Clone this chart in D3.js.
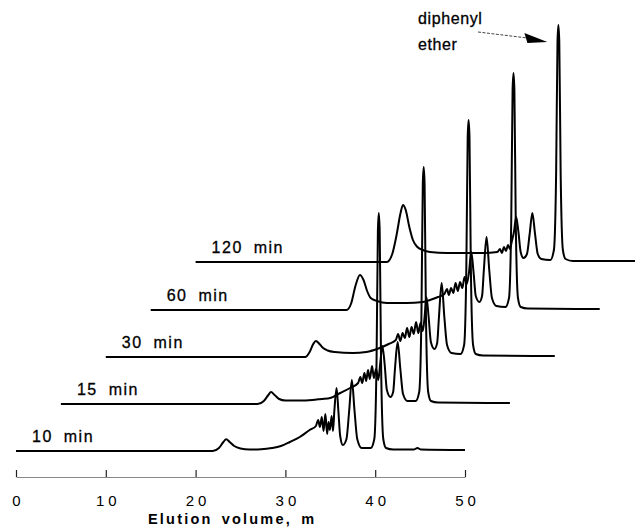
<!DOCTYPE html>
<html lang="en">
<head>
    <meta charset="UTF-8">
    <title>d3js - Chromatograms</title>
    <script src="https://d3js.org/d3.v7.min.js"></script>
    <style>
        body { margin: 0; background: #fff; }
        text { font-family: "Liberation Sans", Arial, sans-serif; fill: #000; }
    </style>
</head>
<body>
    <script>
        var width = 635;
        var height = 527;

        // reaction times and how far each trace is shifted (ml, response units)
        var timeLabels = ["10 min", "15 min", "30 min", "60 min", "120 min"];
        var xOffsets = [0, 5, 10, 15, 20];
        var yOffsets = [0, 47, 94, 141, 189];
        var tickValues = [0, 10, 20, 30, 40, 50];

        // [elution volume (ml), detector response]
        var trace10 = [[0,0],[21.9,0],[22.6,3],[23.1,9],[23.4,11.7],[23.8,9],[24.3,5],[25,2.5],[26,1.5],[27.3,1.8],[28.5,3],[29.5,5],[30.5,9],[31.6,14],[32.7,21],[33.4,25],[33.65,31],[33.85,24],[34.05,34],[34.25,20],[34.45,37],[34.65,17],[34.8,29],[34.95,21],[35.15,35],[35.3,20],[35.45,40],[35.7,63],[35.9,40],[36.1,15],[36.4,6],[36.8,12],[37.1,40],[37.4,71],[37.7,40],[38.0,12],[38.5,3],[39.5,3],[39.9,12],[40.15,90],[40.3,220],[40.4,238],[40.5,220],[40.65,90],[40.9,12],[41.2,3],[42,1.5],[44.3,1.5],[44.7,3],[45.1,1.5],[50,1]];
        var trace15 = [[0,0],[21.9,0],[22.6,3],[23.1,9],[23.4,12],[23.8,9],[24.3,5],[25,3.5],[26.5,3.5],[28,4],[29,5],[30,6],[31.1,11],[32.2,16],[33.1,21],[33.35,27],[33.55,21],[33.8,31],[34.0,23],[34.2,34],[34.4,25],[34.65,38],[34.85,26],[35.1,35],[35.35,24],[35.55,40],[35.8,58],[36.05,40],[36.3,14],[36.7,7],[37.0,12],[37.2,35],[37.5,62],[37.8,35],[38.1,10],[38.6,3],[39.5,3],[39.9,12],[40.15,90],[40.3,220],[40.4,237],[40.5,220],[40.65,90],[40.9,12],[41.2,3],[42,1.5],[50,1]];
        var trace30 = [[0,0],[22.2,0],[22.7,5],[23.1,13],[23.4,16],[23.8,13],[24.2,9],[24.7,6.5],[25.5,5],[27.5,4],[29,5],[30.5,9],[31.5,13],[32.3,17],[32.55,23],[32.8,16],[33.05,24],[33.3,19],[33.55,29],[33.8,20],[34.05,30],[34.3,23],[34.55,35],[34.8,24],[35.05,34],[35.3,26],[35.5,40],[35.7,60],[35.95,40],[36.2,15],[36.6,8],[36.9,14],[37.1,40],[37.4,74],[37.7,40],[38.0,12],[38.5,4],[39.5,3],[39.9,12],[40.15,90],[40.3,220],[40.4,237],[40.5,220],[40.65,90],[40.9,12],[41.2,3],[42,1.5],[50,1]];
        var trace60 = [[0,0],[21.8,0],[22.3,6],[22.8,24],[23.3,35],[23.7,30],[24.1,19],[24.5,12],[25.2,9],[26.3,7],[28.5,7],[30.3,8],[31.1,10],[32.0,13],[32.7,16],[33.0,21],[33.2,15],[33.45,22],[33.7,17],[33.95,27],[34.2,19],[34.45,28],[34.7,22],[34.95,33],[35.2,26],[35.45,38],[35.7,58],[35.95,38],[36.2,14],[36.6,8],[36.9,14],[37.1,40],[37.4,73],[37.7,40],[38.0,12],[38.5,4],[39.5,3],[39.9,12],[40.15,90],[40.3,220],[40.4,237],[40.5,220],[40.65,90],[40.9,12],[41.2,3],[42,1.5],[50,1]];
        var trace120 = [[0,0],[21.3,0],[21.9,8],[22.4,28],[22.8,48],[23.1,57],[23.4,52],[23.8,35],[24.2,22],[24.7,15],[25.3,12],[26.1,10],[28,9],[30,9],[32,9],[33.6,10],[33.9,13],[34.1,9],[34.35,15],[34.55,11],[34.8,17],[35.0,13],[35.2,20],[35.45,30],[35.7,45],[35.95,30],[36.2,10],[36.5,4],[36.9,8],[37.2,28],[37.5,49],[37.8,28],[38.1,8],[38.5,3],[39.5,2],[39.9,12],[40.15,90],[40.3,220],[40.4,237],[40.5,220],[40.65,90],[40.9,12],[41.2,3],[42,1],[50,1]];
        var traces = [trace10, trace15, trace30, trace60, trace120];

        var svg = d3.select("body").append("svg")
                    .attr("width", width)
                    .attr("height", height)

        svg.append("rect")
            .attr("width", width)
            .attr("height", height)
            .attr("fill", "#fff")

        var xScale = d3.scaleLinear().domain([0, 50]).range([16, 465])
        var yScale = d3.scaleLinear().domain([0, 430]).range([451, 21])

        // axis: ticks point up, labels below
        var x_axis = d3.axisBottom(xScale)
                        .tickValues(tickValues)
                        .tickSizeInner(-7)
                        .tickSizeOuter(0)
                        .tickPadding(18)

        var gx = svg.append("g")
            .attr("transform", "translate(0,477)")
            .call(x_axis)

        gx.select(".domain").attr("stroke", "#888").attr("stroke-width", 1)
        gx.selectAll(".tick line").attr("stroke", "#222").attr("stroke-width", 1.2)
        gx.selectAll(".tick text")
            .attr("font-family", "Liberation Sans, Arial, sans-serif")
            .attr("font-size", 15)
            .attr("letter-spacing", "4px")
            .attr("dx", "2px")
            .attr("fill", "#000")

        svg.append("text")
            .attr("x", 148)
            .attr("y", 524)
            .attr("font-size", 14.5)
            .attr("font-weight", "bold")
            .attr("letter-spacing", "2.2px")
            .attr("word-spacing", "3px")
            .text("Elution volume, m")

        var line = d3.line().curve(d3.curveMonotoneX)

        traces.forEach(function(tr, i) {
            var xo = xOffsets[i], yo = yOffsets[i];
            svg.append("path")
                .attr("d", line.x(d => xScale(d[0] + xo)).y(d => yScale(d[1] + yo))(tr))
                .attr("fill", "none")
                .attr("stroke", "#000")
                .attr("stroke-width", 2)
                .attr("stroke-linejoin", "round")

            svg.append("text")
                .attr("x", xScale(xo) + 16)
                .attr("y", yScale(yo) - 9)
                .attr("font-size", 16)
                .attr("letter-spacing", "1.5px")
                .attr("word-spacing", "5px")
                .attr("stroke", "#000")
                .attr("stroke-width", 0.3)
                .text(timeLabels[i])
        })

        // diphenyl ether annotation pointing at the last standard peak
        var peakX = xScale(xOffsets[4] + 40.4), peakY = yScale(yOffsets[4] + 237);
        svg.append("text").attr("x", 418).attr("y", 24).attr("font-size", 16)
            .attr("letter-spacing", "0.6px").attr("stroke", "#000").attr("stroke-width", 0.3)
            .text("diphenyl")
        svg.append("text").attr("x", 418).attr("y", 50).attr("font-size", 16)
            .attr("letter-spacing", "0.6px").attr("stroke", "#000").attr("stroke-width", 0.3)
            .text("ether")

        var tip = [peakX - 11, peakY + 17];
        svg.append("line")
            .attr("x1", 478).attr("y1", 32)
            .attr("x2", tip[0] - 20).attr("y2", tip[1] - 4)
            .attr("stroke", "#444").attr("stroke-width", 1)
            .attr("stroke-dasharray", "3,1.5")
        svg.append("path")
            .attr("d", "M" + tip[0] + "," + tip[1] + "L" + (tip[0] - 23) + "," + (tip[1] - 9) + "L" + (tip[0] - 20) + "," + (tip[1] + 1) + "Z")
            .attr("fill", "#000")
    </script>
</body>
</html>
